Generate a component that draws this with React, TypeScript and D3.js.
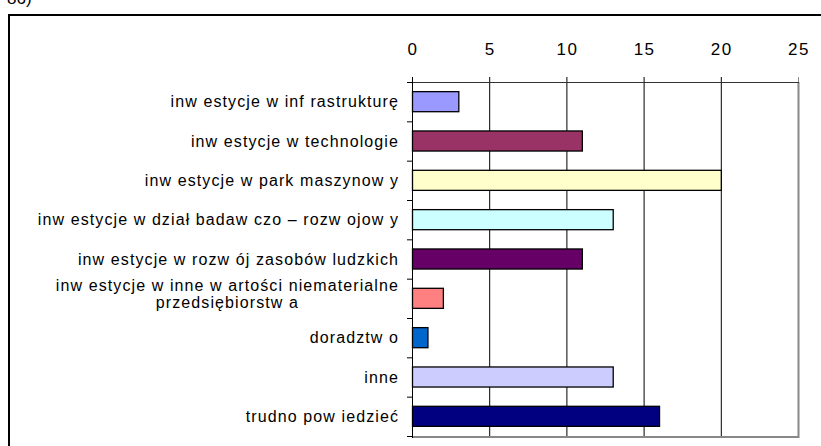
import React, { useEffect, useRef } from 'react';
import * as d3 from 'd3';

// categories as printed (Excel's odd letter gaps kept)
const categories = [
  'inw estycje w inf rastrukturę',
  'inw estycje w technologie',
  'inw estycje w park maszynow y',
  'inw estycje w dział badaw czo – rozw ojow y',
  'inw estycje w rozw ój zasobów ludzkich',
  'inw estycje w inne w artości niematerialne|przedsiębiorstw a',
  'doradztw o',
  'inne',
  'trudno pow iedzieć',
];
const values = [3, 11, 20, 13, 11, 2, 1, 13, 16];
const colors = ['#9999FF', '#993366', '#FFFFCC', '#CCFFFF', '#660066', '#FF8080', '#0066CC', '#CCCCFF', '#000080'];
const ticks = [0, 5, 10, 15, 20, 25];

const width = 821;
const height = 446;
const font = '"Liberation Sans", Arial, sans-serif';

export default function App() {
  const svgRef = useRef<SVGSVGElement>(null);

  useEffect(() => {
    const svg = d3.select(svgRef.current);
    svg.selectAll('*').remove();

    const x = d3.scaleLinear().domain([0, 25]).range([412, 798]);
    const y = d3.scaleBand().domain(categories).range([82, 436]).paddingInner(0.49).paddingOuter(0.245);
    const step = y.step();
    const top = 82;
    const bottom = 436;

    // outer chart frame (runs off the page right and bottom)
    svg.append('path')
      .attr('d', `M9,${height + 5}V15H${width + 5}`)
      .attr('fill', 'none')
      .attr('stroke', '#000')
      .attr('stroke-width', 2);

    svg.append('text')
      .attr('x', 7).attr('y', 4)
      .attr('font-family', font).attr('font-size', 17)
      .text('86)');

    // gridlines
    svg.append('g').selectAll('line')
      .data(ticks.slice(1, -1))
      .join('line')
      .attr('x1', d => x(d) + 0.5).attr('x2', d => x(d) + 0.5)
      .attr('y1', top).attr('y2', bottom)
      .attr('stroke', '#000');

    // plot border right + bottom (grey)
    svg.append('path')
      .attr('d', `M${x(25) + 0.5},${top}V${bottom + 1}H${x(0)}`)
      .attr('fill', 'none')
      .attr('stroke', '#888')
      .attr('stroke-width', 2);

    // top axis
    svg.append('line')
      .attr('x1', x(0)).attr('x2', x(25) + 1)
      .attr('y1', top + 0.5).attr('y2', top + 0.5)
      .attr('stroke', '#333');
    svg.append('g').selectAll('line')
      .data(ticks)
      .join('line')
      .attr('x1', d => x(d) + 0.5).attr('x2', d => x(d) + 0.5)
      .attr('y1', top - 5).attr('y2', top)
      .attr('stroke', d => (d === 25 ? '#888' : '#000'));
    svg.append('g').selectAll('text')
      .data(ticks)
      .join('text')
      .attr('x', d => x(d) + 1)
      .attr('y', 55)
      .attr('text-anchor', 'middle')
      .attr('font-family', font)
      .attr('font-size', 17)
      .attr('letter-spacing', 1.5)
      .text(d => d);

    // left axis with ticks at band boundaries
    svg.append('line')
      .attr('x1', x(0) + 0.5).attr('x2', x(0) + 0.5)
      .attr('y1', top).attr('y2', bottom + 2)
      .attr('stroke', '#000');
    svg.append('g').selectAll('line')
      .data(d3.range(categories.length + 1))
      .join('line')
      .attr('x1', x(0) - 5).attr('x2', x(0))
      .attr('y1', i => top + i * step + 0.5).attr('y2', i => top + i * step + 0.5)
      .attr('stroke', '#000');

    // bars
    svg.append('g').selectAll('rect')
      .data(values)
      .join('rect')
      .attr('x', x(0) + 0.5)
      .attr('y', (d, i) => y(categories[i])!)
      .attr('width', d => x(d) - x(0))
      .attr('height', y.bandwidth())
      .attr('fill', (d, i) => colors[i])
      .attr('stroke', '#000')
      .attr('stroke-width', 1.3);

    // category labels
    const labels = svg.append('g')
      .attr('font-family', font)
      .attr('font-size', 16)
      .attr('letter-spacing', 1.1);
    categories.forEach(c => {
      const lines = c.split('|');
      const cy = y(c)! + y.bandwidth() / 2;
      if (lines.length === 1) {
        labels.append('text')
          .attr('x', 399).attr('y', cy).attr('dy', '0.35em')
          .attr('text-anchor', 'end')
          .text(c);
      } else {
        const first = labels.append('text')
          .attr('x', 399).attr('y', cy - 13).attr('dy', '0.35em')
          .attr('text-anchor', 'end')
          .text(lines[0]);
        const w = (first.node() as SVGTextElement).getComputedTextLength();
        labels.append('text')
          .attr('x', 399 - w / 2).attr('y', cy + 4).attr('dy', '0.35em')
          .attr('text-anchor', 'middle')
          .text(lines[1]);
      }
    });
  }, []);

  return (
    <svg
      ref={svgRef}
      width={width}
      height={height}
      style={{ position: 'absolute', left: 0, top: 0, background: '#fff' }}
    />
  );
}
